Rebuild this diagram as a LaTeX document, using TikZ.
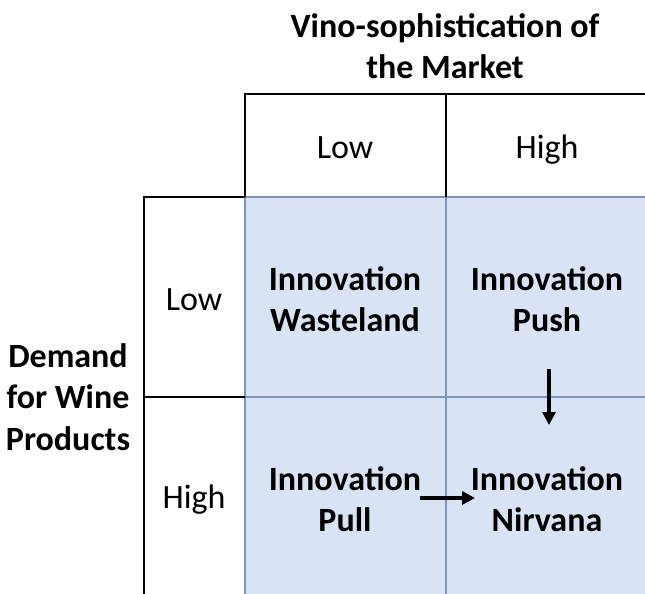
\documentclass[tikz,border=0pt]{standalone}
\usepackage{fontspec}
\setmainfont{Carlito}
\usetikzlibrary{arrows.meta}
\definecolor{cellblue}{HTML}{DAE3F3}
\definecolor{gridblue}{HTML}{7F93C0}
\newcommand{\txtsize}{\fontsize{34}{41.5}\selectfont}
\tikzset{
  lbl/.style={align=center, inner sep=0pt, font=\txtsize},
  hdr/.style={lbl, font=\txtsize\bfseries},
  pusharrow/.style={line width=3.3pt, -{Triangle[length=13pt,width=13pt]}}
}

\begin{document}
\begin{tikzpicture}[x=1pt,y=-1pt]
      \useasboundingbox (0,0) rectangle (645,594);
          %% the blue quadrants
      \fill[cellblue] (245,197) rectangle (650,600);
      \draw[gridblue, line width=1.4pt] (245,197) -- (650,197);
      \draw[gridblue, line width=1.4pt] (245,397) -- (650,397);
      \draw[gridblue, line width=1.4pt] (245,197) -- (245,600);
      \draw[gridblue, line width=1.4pt] (446,197) -- (446,600);
          %% black frame of the headers
      \draw[line width=1.5pt] (245,197) -- (245,94) -- (650,94);
      \draw[line width=1.5pt] (446,94) -- (446,197);
      \draw[line width=1.5pt] (245,197) -- (144,197) -- (144,600);
      \draw[line width=1.5pt] (144,397) -- (245,397);

      \node (title) at (445,46) [hdr] {Vino-sophistication of\\the Market};
      \node (side) at (68,397) [hdr] {Demand\\for Wine\\Products};
      \node (colLow) at (345,158) [lbl, anchor=base] {Low};
      \node (colHigh) at (547,158) [lbl, anchor=base] {High};
      \node (rowLow) at (194,310) [lbl, anchor=base] {Low};
      \node (rowHigh) at (194,508) [lbl, anchor=base] {High};

      \node (waste) at (345,299) [hdr] {Innovation\\Wasteland};
      \node (push) at (547,299) [hdr] {Innovation\\Push};
      \node (pull) at (345,499) [hdr] {Innovation\\Pull};
      \node (nirvana) at (547,499) [hdr] {Innovation\\Nirvana};

      \coordinate (pushEnd) at (549,369);
      \coordinate (nirvTop) at (549,425);
      \coordinate (pullEnd) at (420,498);
      \coordinate (nirvLeft) at (475,498);
      \draw[pusharrow] (pushEnd) to (nirvTop);
      \draw[pusharrow] (pullEnd) to (nirvLeft);
\end{tikzpicture}
\end{document}
